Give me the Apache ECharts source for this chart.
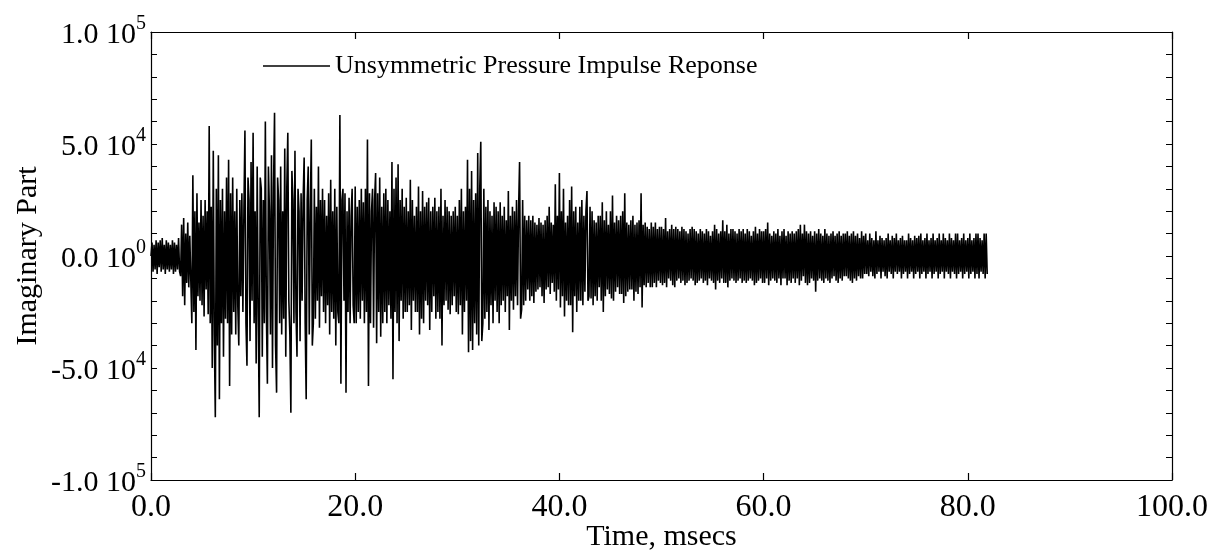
<!DOCTYPE html>
<html>
<head>
<meta charset="utf-8">
<script src="https://cdn.jsdelivr.net/npm/echarts@6/dist/echarts.min.js"></script>
<style>html,body{margin:0;padding:0;background:#fff;}#chart{width:1219px;height:554px;}</style>
</head>
<body>
<div id="chart"></div>
<script>
const sampleStepMs = 0.1;
// Imaginary part, in units of 1e3; one array per 10 ms, 10 samples per row (1 ms)
const sig00to10 = [
  0,6,-7,5,-6,7,-8,6,-5,7,
  -7,8,-6,5,-8,7,-6,6,-7,5,
  -6,7,-8,6,-7,5,-6,8,-7,-9,
  14,-18,17,-22,10,-12,15,-14,9,-11,
  -30,36,-25,20,-42,28,-18,15,-20,25,
  -22,18,-27,25,-15,20,-26,58,-30,22,
  -50,47,-35,-72,30,-40,45,-64,25,-30,
  30,-45,20,-28,35,-30,43,-58,28,-35,
  35,-25,20,-35,30,-22,-40,25,-18,28,
  -25,20,56,-30,-49,35,25,-38,42,-20];
const sig10to20 = [
  55,-30,20,-48,40,-25,-72,35,30,-45,
  25,-30,60,-25,-57,40,20,-35,45,-50,
  30,64,-40,-61,35,25,-30,40,-35,20,
  -28,48,-45,30,55,-20,-35,-70,38,25,
  -30,47,-25,-45,30,20,-38,28,-20,25,
  44,-30,-64,25,40,-35,20,52,-40,-30,
  30,-28,22,-20,40,-32,25,-18,30,-25,
  25,-30,18,-22,28,-35,34,-25,20,-28,
  30,-40,22,-25,-30,63,-57,25,30,-20,
  28,-61,20,-25,26,-30,18,30,-22,-30];
const sig20to30 = [
  31,-30,22,-25,25,-28,30,-20,24,-30,
  30,-25,52,-58,28,-30,20,30,-32,25,
  37,-39,28,-25,35,-36,22,-30,28,-25,
  30,-30,25,-22,20,-28,42,-55,30,-25,
  35,-30,41,-38,25,-20,30,-28,22,-25,
  26,-25,20,-22,34,-33,25,-20,18,-25,
  22,-25,31,-35,20,-28,29,-30,22,-20,
  24,-22,26,-33,20,-25,22,-18,26,-28,
  20,-25,22,-28,30,-40,18,-22,25,-20,
  22,-24,20,-26,18,-22,20,-18,22,-25];
const sig30to40 = [
  18,-26,25,-22,30,-35,20,-25,22,-20,
  43,-43,30,-38,38,-42,25,-30,28,-35,
  46,-40,30,51,-38,-30,30,-28,22,-25,
  25,-33,20,-22,18,-30,24,-20,22,-25,
  20,-30,24,-22,18,-20,22,-25,16,-18,
  29,-33,18,-20,22,-24,20,-18,25,-22,
  20,42,-28,-24,25,-22,18,-20,16,-15,
  18,-20,16,-18,18,-21,15,-16,14,-15,
  17,-14,15,-18,14,-21,16,-15,18,-14,
  22,-17,15,-12,14,-16,32,-20,18,-15];
const sig40to50 = [
  37,-23,20,-18,30,-27,15,-20,18,-22,
  25,-22,31,-34,20,-18,22,-25,15,-20,
  22,-20,25,-22,18,-16,20,29,-20,-18,
  22,-19,20,-22,16,-18,15,-20,18,-14,
  18,-20,24,-25,16,-18,20,-15,14,-17,
  20,-19,27,-20,15,-16,18,-14,16,-17,
  18,-17,20,-21,28,-18,15,-16,14,-15,
  16,-15,18,-20,14,-16,15,-17,16,-14,
  28,-23,14,-13,15,-14,13,-12,12,-14,
  15,-14,13,-12,15,-14,12,-11,13,-12];
const sig50to60 = [
  13,-13,12,-12,17,-14,11,-10,12,-11,
  14,-13,12,-14,13,-11,12,-10,11,-12,
  13,-11,12,-13,11,-12,10,-11,12,-10,
  13,-11,12,-13,11,-12,10,-11,12,-10,
  11,-12,10,-11,12,-13,11,-10,9,-11,
  11,-12,14,-15,12,-11,10,-12,11,-10,
  16,-12,11,-12,14,-14,10,-11,12,-10,
  12,-11,11,-12,10,-11,12,-10,11,-12,
  12,-11,10,-12,12,-11,11,-10,9,-11,
  11,-13,13,-12,10,-11,12,-10,11,-12];
const sig60to70 = [
  11,-12,12,-10,15,-13,10,-11,9,-10,
  11,-11,10,-12,12,-10,9,-13,11,-10,
  12,-10,9,-13,11,-11,10,-12,11,-10,
  10,-12,11,-10,12,-13,14,-11,10,-9,
  14,-12,11,-13,10,-12,11,-10,9,-11,
  11,-16,10,-11,12,-10,10,-11,9,-12,
  12,-10,10,-11,9,-12,10,-10,11,-9,
  9,-11,10,-12,11,-10,9,-11,10,-9,
  10,-9,11,-10,9,-11,10,-12,11,-10,
  9,-11,10,-9,8,-10,11,-10,9,-8];
const sig70to82 = [
  10,-8,7,-9,10,-7,8,-9,7,-10,
  11,-8,7,-7,9,-10,8,-7,7,-9,
  8,-10,10,-7,7,-8,9,-10,8,-7,
  10,-8,7,-7,8,-10,9,-8,7,-7,
  7,-10,10,-8,8,-7,7,-10,9,-8,
  8,-7,9,-10,10,-8,7,-7,8,-10,
  10,-8,7,-7,8,-10,10,-8,7,-7,
  8,-10,10,-8,7,-7,10,-10,8,-7,
  7,-8,10,-10,8,-7,7,-8,10,-10,
  10,-8,7,-7,8,-10,10,-8,7,-7,
  8,-10,10,-8,7,-7,8,-10,10,-8,
  10,-10,8,-7,7,-8,10,-10,10,-8];

const xTickValues = [0, 20, 40, 60, 80, 100];
const xTickLabels = ['0.0', '20.0', '40.0', '60.0', '80.0', '100.0'];
const yTickValues = [-100, -50, 0, 50, 100];
const yTickMantissa = ['-1.0 10', '-5.0 10', '0.0 10', '5.0 10', '1.0 10'];
const yTickExponent = ['5', '4', '0', '4', '5'];

const seriesName = 'Unsymmetric Pressure Impulse Reponse';
const xName = 'Time, msecs';
const yName = 'Imaginary Part';

const values = [].concat(sig00to10, sig10to20, sig20to30, sig30to40, sig40to50, sig50to60, sig60to70, sig70to82);
const points = values.map((v, i) => [+(i * sampleStepMs).toFixed(1), v]);

const FONT = '"Liberation Serif", "DejaVu Serif", serif';

const chart = echarts.init(document.getElementById('chart'), null, {renderer: 'canvas'});
const axisLine = {show: true, onZero: false, lineStyle: {color: '#000', width: 1.2}};
chart.setOption({
  animation: false,
  backgroundColor: '#fff',
  grid: {left: 151, right: 47, top: 32, bottom: 74, containLabel: false, outerBoundsMode: 'none'},
  legend: {
    left: 258, top: 48,
    icon: 'rect', itemWidth: 67, itemHeight: 1.5,
    itemStyle: {color: '#000'},
    textStyle: {fontFamily: FONT, fontSize: 26, color: '#000'},
    data: [seriesName]
  },
  xAxis: [{
    type: 'value', min: 0, max: 100, interval: 20, position: 'bottom',
    axisLine: axisLine,
    axisTick: {show: true, inside: true, length: 7, lineStyle: {color: '#000', width: 1.2}},
    splitLine: {show: false},
    axisLabel: {
      margin: 12, color: '#000', fontFamily: FONT, fontSize: 32,
      formatter: v => { const i = xTickValues.indexOf(v); return i >= 0 ? xTickLabels[i] : ''; }
    },
    name: xName, nameLocation: 'middle', nameGap: 42, nameMoveOverlap: false,
    nameTextStyle: {fontFamily: FONT, fontSize: 30, color: '#000'}
  }, {
    type: 'value', min: 0, max: 100, interval: 20, position: 'top',
    axisLine: axisLine,
    axisTick: {show: true, inside: true, length: 7, lineStyle: {color: '#000', width: 1.2}},
    axisLabel: {show: false}, splitLine: {show: false}
  }],
  yAxis: [{
    type: 'value', min: -100, max: 100, interval: 50, position: 'left',
    axisLine: axisLine,
    axisTick: {show: true, inside: true, length: 6, lineStyle: {color: '#000'}},
    minorTick: {show: true, splitNumber: 5, length: 6, lineStyle: {color: '#000'}},
    splitLine: {show: false},
    axisLabel: {
      margin: 5, color: '#000', fontFamily: FONT,
      formatter: v => {
        const i = yTickValues.indexOf(v);
        return i >= 0 ? '{m|' + yTickMantissa[i] + '}{e|' + yTickExponent[i] + '}' : '';
      },
      rich: {
        m: {fontFamily: FONT, fontSize: 30, color: '#000', lineHeight: 36, verticalAlign: 'bottom'},
        e: {fontFamily: FONT, fontSize: 20, color: '#000', lineHeight: 20, verticalAlign: 'top'}
      }
    },
    name: yName, nameLocation: 'middle', nameGap: 108, nameRotate: 90, nameMoveOverlap: false,
    nameTextStyle: {fontFamily: FONT, fontSize: 30, color: '#000'}
  }, {
    type: 'value', min: -100, max: 100, interval: 50, position: 'right',
    axisLine: axisLine,
    axisTick: {show: true, inside: true, length: 6, lineStyle: {color: '#000'}},
    minorTick: {show: true, splitNumber: 5, length: 6, lineStyle: {color: '#000'}},
    axisLabel: {show: false}, splitLine: {show: false}
  }],
  series: [{
    name: seriesName, type: 'line', xAxisIndex: 0, yAxisIndex: 0,
    data: points, showSymbol: false, symbol: 'none', sampling: null,
    lineStyle: {color: '#000', width: 1.6}, itemStyle: {color: '#000'}
  }]
});
</script>
</body>
</html>
